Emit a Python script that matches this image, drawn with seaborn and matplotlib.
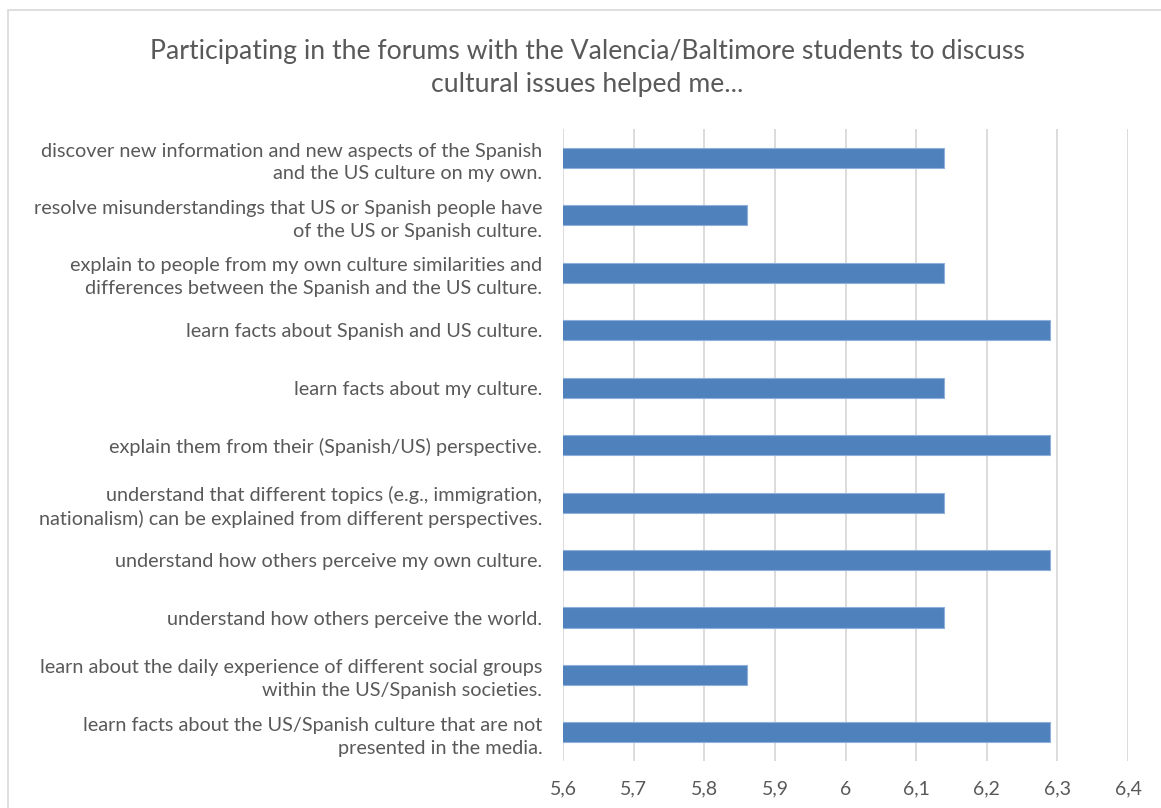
import numpy as np
import pandas as pd
import matplotlib
matplotlib.use("Agg")
import matplotlib.pyplot as plt
import seaborn as sns
from matplotlib.patches import Rectangle
from matplotlib.ticker import FuncFormatter

# Data (top to bottom)
labels = [
    "discover new information and new aspects of the Spanish\nand the US culture on my own.",
    "resolve misunderstandings that US or Spanish people have\nof the US or Spanish culture.",
    "explain to people from my own culture similarities and\ndifferences between the Spanish and the US culture.",
    "learn facts about Spanish and US culture.",
    "learn facts about my culture.",
    "explain them from their (Spanish/US) perspective.",
    "understand that different topics (e.g., immigration,\nnationalism) can be explained from different perspectives.",
    "understand how others perceive my own culture.",
    "understand how others perceive the world.",
    "learn about the daily experience of different social groups\nwithin the US/Spanish societies.",
    "learn facts about the US/Spanish culture that are not\npresented in the media.",
]
values = [6.14, 5.86, 6.14, 6.29, 6.14, 6.29, 6.14, 6.29, 6.14, 5.86, 6.29]
xticks = [5.6, 5.7, 5.8, 5.9, 6.0, 6.1, 6.2, 6.3, 6.4]

title = "Participating in the forums with the Valencia/Baltimore students to discuss\ncultural issues helped me..."

df = pd.DataFrame({"item": labels, "score": values})

sns.set_style("white")
plt.rcParams["font.family"] = ["Lato", "DejaVu Sans"]
text_color = "#595959"

fig = plt.figure(figsize=(11.61, 8.08), dpi=100)
ax = fig.add_axes([0.485, 0.058, 0.4866, 0.782])

sns.barplot(data=df, x="score", y="item", color="#4F81BD", saturation=1,
            width=0.35, edgecolor="#8FB0DA", linewidth=0.8, ax=ax, zorder=3)

ax.set_xlim(5.6, 6.4)
ax.set_xticks(xticks)
ax.xaxis.set_major_formatter(FuncFormatter(lambda v, p: f"{v:g}".replace(".", ",")))
ax.grid(axis="x", color="#D9D9D9", linewidth=1.3, zorder=0)
ax.set_axisbelow(True)
for s in ax.spines.values():
    s.set_visible(False)
ax.set_xlabel("")
ax.set_ylabel("")
ax.tick_params(axis="x", colors=text_color, labelsize=14, length=0, pad=14)
ax.tick_params(axis="y", colors=text_color, labelsize=14.3, length=0, pad=15)
ax.set_yticks(range(len(labels)))
ax.set_yticklabels(labels, ha="right", multialignment="right", linespacing=1.4)

fig.text(0.506, 0.916, title, ha="center", va="center", fontsize=19.2,
         color=text_color, linespacing=1.42)

# chart border
fig.patches.append(Rectangle((8 / 1161, -0.05), 1.2, 1 - 10 / 808 + 0.05,
                             transform=fig.transFigure, fill=False,
                             edgecolor="#D9D9D9", linewidth=1.2))

fig.savefig("out.png", dpi=100, facecolor="white")
